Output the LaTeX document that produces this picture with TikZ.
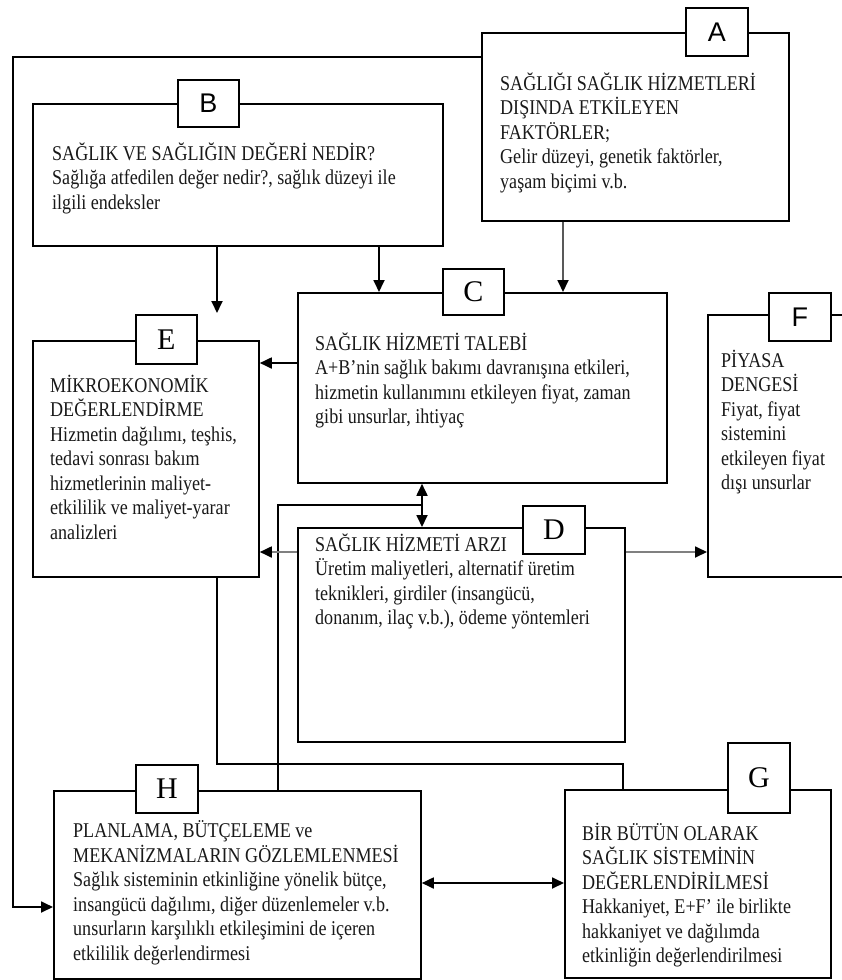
\documentclass[tikz,border=0pt]{standalone}
\usepackage{fontspec}
\setmainfont[FakeStretch=0.86]{Liberation Serif}
\newfontfamily\labelsans{Liberation Sans}
\newfontfamily\labelserif{Liberation Serif}
\usetikzlibrary{arrows.meta,calc}
\begin{document}
\begin{tikzpicture}[x=1pt,y=-1pt,
  mainbox/.style={draw=black,line width=1.8pt,fill=white,inner sep=0pt,anchor=north west},
  lbl/.style={draw=black,line width=1.8pt,fill=white,inner sep=0pt,anchor=north west,
              font=\labelserif\fontsize{30}{30}\selectfont},
  sanslbl/.style={lbl,font=\labelsans\fontsize{27}{27}\selectfont},
  txt/.style={anchor=north west,inner sep=0pt,align=left,text=black!90,
              font=\fontsize{21}{24.5}\selectfont},
  link/.style={line width=1.8pt},
  arr/.style={link,-{Triangle[length=12pt,width=11pt,color=black]}},
  biarr/.style={link,{Triangle[length=12pt,width=11pt]}-{Triangle[length=12pt,width=11pt]}}]
\clip (0,0) rectangle (842,980);
\useasboundingbox (0,0) rectangle (842,980);

% main boxes
\node[mainbox,minimum width=307pt,minimum height=188pt] (A) at (481,32) {};
\node[mainbox,minimum width=410pt,minimum height=142pt] (B) at (32,103) {};
\node[mainbox,minimum width=369pt,minimum height=190pt] (C) at (297,292) {};
\node[mainbox,minimum width=327pt,minimum height=214pt] (D) at (297,527) {};
\node[mainbox,minimum width=226pt,minimum height=236pt] (E) at (32,340) {};
\node[mainbox,minimum width=160pt,minimum height=262pt] (F) at (707,314) {};
\node[mainbox,minimum width=266pt,minimum height=188pt] (G) at (564,789) {};
\node[mainbox,minimum width=367pt,minimum height=188pt] (H) at (53,790) {};

% box contents
\node[txt] (Atext) at (500,72.5) {SAĞLIĞI SAĞLIK HİZMETLERİ\\DIŞINDA ETKİLEYEN\\FAKTÖRLER;\\Gelir düzeyi, genetik faktörler,\\yaşam biçimi v.b.};
\node[txt] (Btext) at (52,142.5) {SAĞLIK VE SAĞLIĞIN DEĞERİ NEDİR?\\Sağlığa atfedilen değer nedir?, sağlık düzeyi ile\\ilgili endeksler};
\node[txt] (Ctext) at (315,332.5) {SAĞLIK HİZMETİ TALEBİ\\A+B’nin sağlık bakımı davranışına etkileri,\\hizmetin kullanımını etkileyen fiyat, zaman\\gibi unsurlar, ihtiyaç};
\node[txt] (Dtext) at (315,533.5) {SAĞLIK HİZMETİ ARZI\\Üretim maliyetleri, alternatif üretim\\teknikleri, girdiler (insangücü,\\donanım, ilaç v.b.), ödeme yöntemleri};
\node[txt] (Etext) at (50,374.5) {MİKROEKONOMİK\\DEĞERLENDİRME\\Hizmetin dağılımı, teşhis,\\tedavi sonrası bakım\\hizmetlerinin maliyet-\\etkililik ve maliyet-yarar\\analizleri};
\node[txt] (Ftext) at (721,349.5) {PİYASA\\DENGESİ\\Fiyat, fiyat\\sistemini\\etkileyen fiyat\\dışı unsurlar};
\node[txt] (Gtext) at (582,822.5) {BİR BÜTÜN OLARAK\\SAĞLIK SİSTEMİNİN\\DEĞERLENDİRİLMESİ\\Hakkaniyet, E+F’ ile birlikte\\hakkaniyet ve dağılımda\\etkinliğin değerlendirilmesi};
\node[txt] (Htext) at (73,820.5) {PLANLAMA, BÜTÇELEME ve\\MEKANİZMALARIN GÖZLEMLENMESİ\\Sağlık sisteminin etkinliğine yönelik bütçe,\\insangücü dağılımı, diğer düzenlemeler v.b.\\unsurların karşılıklı etkileşimini de içeren\\etkililik değerlendirmesi};

% letter tabs
\node[sanslbl,minimum width=62pt,minimum height=48pt] (Alab) at (685,7) {A};
\node[sanslbl,minimum width=61pt,minimum height=47pt] (Blab) at (177,79) {B};
\node[lbl,minimum width=61pt,minimum height=46pt] (Clab) at (442,268) {C};
\node[lbl,minimum width=62pt,minimum height=48pt] (Dlab) at (522,505) {D};
\node[lbl,minimum width=61pt,minimum height=49pt] (Elab) at (135,314) {E};
\node[sanslbl,minimum width=62pt,minimum height=48pt] (Flab) at (768,292) {F};
\node[lbl,minimum width=62pt,minimum height=70pt] (Glab) at (727,742) {G};
\node[lbl,minimum width=62pt,minimum height=48pt] (Hlab) at (135,764) {H};

% routing positions
\coordinate (xAC) at (563,0);
\coordinate (xBC) at (379,0);
\coordinate (xBE) at (217,0);
\coordinate (yCE) at (0,363);
\coordinate (xCD) at (422,0);
\coordinate (yJ) at (0,505);
\coordinate (xHJ) at (278,0);
\coordinate (yDEF) at (0,552);
\coordinate (yEG) at (0,764);
\coordinate (xEG) at (623,0);
\coordinate (yHG) at (0,883);
\coordinate (yTop) at (0,57);
\coordinate (xOut) at (13,0);
\coordinate (yOut) at (0,907);

% connectors
\draw[arr,draw=black!65] (A.south -| xAC) -- (C.north -| xAC);
\draw[arr] (B.south -| xBC) -- (C.north -| xBC);
\draw[arr] (B.south -| xBE) -- ($(E.north -| xBE)+(0,-27)$);
\draw[arr] (C.west |- yCE) -- (E.east |- yCE);
\draw[biarr] (C.south -| xCD) -- (D.north -| xCD);
\draw[link] (H.north -| xHJ) |- (yJ -| xCD);
\draw[arr,draw=black!50] (D.west |- yDEF) -- (E.east |- yDEF);
\draw[arr,draw=black!50] (D.east |- yDEF) -- (F.west |- yDEF);
\draw[link] (E.south -| xBE) |- (yEG -| xEG) -- (G.north -| xEG);
\draw[biarr] (H.east |- yHG) -- (G.west |- yHG);
\draw[arr] (A.west |- yTop) -| (xOut |- yOut) -- (H.west |- yOut);
\end{tikzpicture}
\end{document}
